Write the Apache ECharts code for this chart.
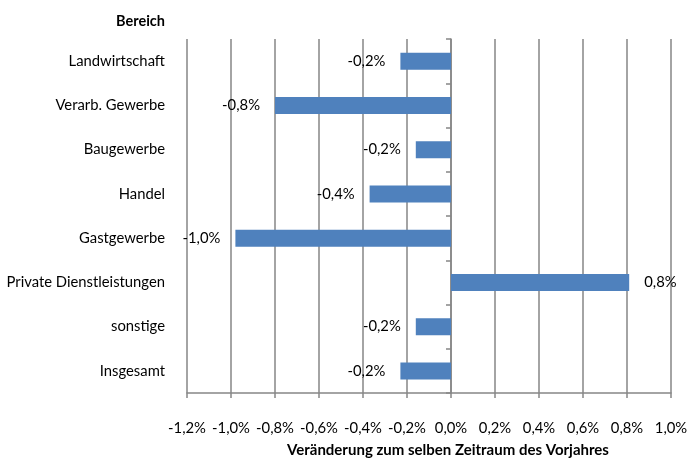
<!DOCTYPE html>
<html><head><meta charset="utf-8">
<script src="https://cdn.jsdelivr.net/npm/echarts@6/dist/echarts.min.js"></script>
<style>html,body{margin:0;padding:0;background:#fff}#c{width:688px;height:459px}</style>
</head><body><div id="c"></div>
<script>
var categories = ['Landwirtschaft','Verarb. Gewerbe','Baugewerbe','Handel','Gastgewerbe','Private Dienstleistungen','sonstige','Insgesamt'];
var values = [-0.23, -0.80, -0.16, -0.37, -0.98, 0.81, -0.16, -0.23];
var xMin = -1.2, xMax = 1.0, xStep = 0.2;
var yTitle = 'Bereich';
var xTitle = 'Veränderung zum selben Zeitraum des Vorjahres';

function fmt(v){ return (Math.round(v*10)/10).toFixed(1).replace('.', ',') + '%'; }
var FONT = 'Lato';
var FS = 14.8;
var chart = echarts.init(document.getElementById('c'));
chart.setOption({
  animation: false,
  backgroundColor: '#fff',
  title: { text: yTitle, left: 111, top: 9,
    textStyle: { fontFamily: FONT, fontSize: 14.5, fontWeight: 'bold', color: '#000' } },
  grid: { left: 187, right: 17, top: 39, bottom: 66, outerBoundsMode: 'none', containLabel: false },
  xAxis: {
    type: 'value', min: xMin, max: xMax, interval: xStep,
    name: xTitle, nameLocation: 'middle', nameGap: 50,
    nameTextStyle: { fontFamily: FONT, fontSize: 15, fontWeight: 'bold', color: '#000', padding: [0,0,0,38] },
    axisLine: { show: true, lineStyle: { color: '#868686', width: 1.5 } },
    axisTick: { show: true, length: 5, lineStyle: { color: '#868686', width: 1.5 } },
    axisLabel: { fontFamily: FONT, fontSize: FS, color: '#000', margin: 28, formatter: fmt },
    splitLine: { show: true, lineStyle: { color: '#868686', width: 1.5 } }
  },
  yAxis: {
    type: 'category', data: categories, inverse: true,
    axisLine: { show: true, onZero: true, lineStyle: { color: '#868686', width: 1.5 } },
    axisTick: { show: true, length: 5, lineStyle: { color: '#868686', width: 1.5 } },
    axisLabel: { fontFamily: FONT, fontSize: FS, color: '#000', margin: 22 },
    splitLine: { show: false }
  },
  series: [{
    type: 'bar', barWidth: 17,
    itemStyle: { color: '#4f81bd' },
    data: values.map(function(v){
      return { value: v, label: { position: v < 0 ? 'left' : 'right' } };
    }),
    label: { show: true, distance: 15, fontFamily: FONT, fontSize: FS, color: '#000',
      formatter: function(p){ return fmt(p.value); } }
  }]
});
</script></body></html>
